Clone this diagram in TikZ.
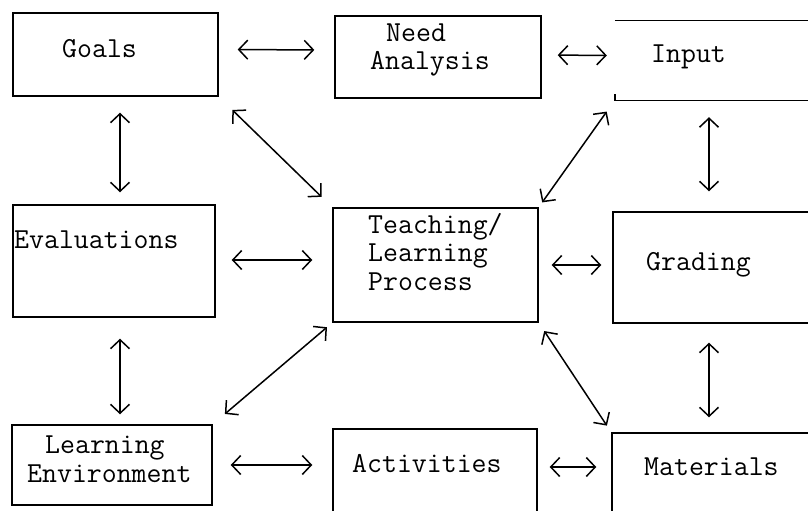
\documentclass[tikz,border=0pt]{standalone}
\usepackage{fontspec}
\usetikzlibrary{arrows.meta}
\begin{document}
\begin{tikzpicture}[x=1pt,y=-1pt,
    box/.style={draw, line width=1.4pt, inner sep=0pt},
    frame/.style={inner sep=0pt},
    txt/.style={anchor=base west, inner sep=0pt, font=\ttfamily\fontsize{29}{28.5}\selectfont, align=left},
    link/.style={{Straight Barb[length=9pt,width=19pt]}-{Straight Barb[length=9pt,width=19pt]}, line width=1.5pt}]
        \clip (0,0) rectangle (808,511);
        % boxes
        \node[box, minimum width=205, minimum height=83] (goals) at (115.5,54.5) {};
        \node[box, minimum width=206, minimum height=82] (need) at (438,57) {};
        \node[frame, minimum width=215, minimum height=79] (input) at (722.5,60.5) {};
        \draw[line width=1.4pt] (input.north west) -- (input.north east);
        \draw[line width=1.4pt] ([yshift=6]input.south west) -- (input.south west) -- (input.south east);
        \node[box, minimum width=202, minimum height=112] (eval) at (114,261) {};
        \node[box, minimum width=205, minimum height=114] (tlp) at (435.5,265) {};
        \node[box, minimum width=217, minimum height=111] (grading) at (721.5,267.5) {};
        \node[box, minimum width=200, minimum height=80] (env) at (112,465) {};
        \node[box, minimum width=204, minimum height=101] (act) at (435,479.5) {};
        \node[box, minimum width=218, minimum height=97] (mat) at (721,481.5) {};
        % texts (base = last line)
        \node[txt] (goalstxt) at (62,57) {Goals};
        \node[txt] (needtxt) at (370,70) {\hspace*{16pt}Need\\Analysis};
        \node[txt] (inputtxt) at (651,63) {Input};
        \node[txt] (evaltxt) at (14,248) {Evaluations};
        \node[txt] (tlptxt) at (368,290) {Teaching/\\Learning\\Process};
        \node[txt] (gradingtxt) at (646,270) {Grading};
        \node[txt] (envtxt) at (27,482) {\hspace*{18pt}Learning\\Environment};
        \node[txt] (acttxt) at (352,472) {Activities};
        \node[txt] (mattxt) at (644,475) {Materials};
        % arrows
        \draw[link, shorten <=19pt, shorten >=20pt] ([yshift=5]goals.east) -- ([yshift=7]need.west);
        \draw[link, shorten <=16pt, shorten >=8pt] ([yshift=2]need.east) -- ([yshift=5]input.west);
        \draw[link, shorten <=16pt, shorten >=12pt] ([xshift=4.5]goals.south) -- ([xshift=6]eval.north);
        \draw[link, shorten <=19pt, shorten >=15pt] (goals.south east) -- (tlp.north west);
        \draw[link, shorten <=14pt, shorten >=6pt] (input.south west) -- (tlp.north east);
        \draw[link, shorten <=17pt, shorten >=20pt] ([xshift=-13.5]input.south) -- ([xshift=-12.5]grading.north);
        \draw[link, shorten <=16pt, shorten >=20pt] ([yshift=1]eval.east) -- ([yshift=5]tlp.west);
        \draw[link, shorten <=13pt, shorten >=11pt] (tlp.east) -- ([yshift=2.5]grading.west);
        \draw[link, shorten <=21pt, shorten >=10pt] ([xshift=6]eval.south) -- ([xshift=8]env.north);
        \draw[link, shorten <=7pt, shorten >=16pt] (tlp.south west) -- (env.north east);
        \draw[link, shorten <=10pt, shorten >=8pt] (tlp.south east) -- (mat.north west);
        \draw[link, shorten <=19pt, shorten >=15pt] ([xshift=-12.5]grading.south) -- ([xshift=-12]mat.north);
        \draw[link, shorten <=18pt, shorten >=20pt] (env.east) -- ([yshift=14.5]act.west);
        \draw[link, shorten <=12pt, shorten >=15pt] ([yshift=12.5]act.east) -- ([yshift=14.5]mat.west);
    \end{tikzpicture}
\end{document}
